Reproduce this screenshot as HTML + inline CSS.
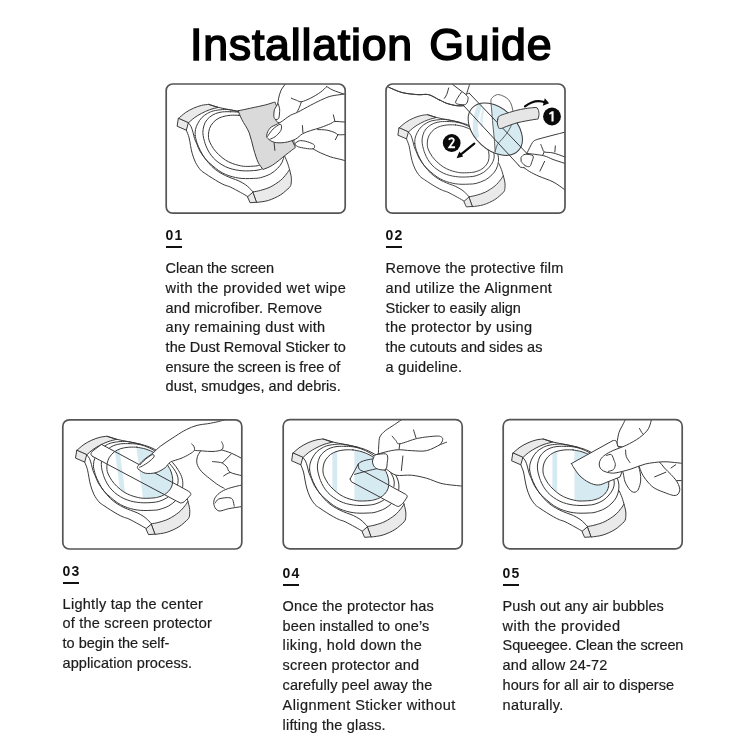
<!DOCTYPE html>
<html><head><meta charset="utf-8"><title>Installation Guide</title>
<style>
html,body{margin:0;padding:0;background:#fff}
body{will-change:transform;width:750px;height:750px;position:relative;overflow:hidden;font-family:"Liberation Sans",sans-serif;color:#1a1a1a}
.title{word-spacing:3.2px;position:absolute;left:0;top:0;width:750px;text-align:center;font-size:44.7px;line-height:50px;color:#000;white-space:nowrap}
.num{position:absolute;font-weight:bold;font-size:14px;letter-spacing:1.1px;line-height:16px;color:#111;white-space:nowrap}
.bar{position:absolute;width:16.6px;height:2.1px;background:#111}
.ln{position:absolute;font-size:14.5px;line-height:18px;white-space:nowrap;color:#1c1c1c;-webkit-text-stroke:0.2px #1c1c1c}
</style></head><body>
<svg width="750" height="750" viewBox="0 0 750 750" style="position:absolute;left:0;top:0">
<defs><clipPath id="pc0"><rect x="166.2" y="84" width="179" height="129.2" rx="6.5"/></clipPath></defs><g clip-path="url(#pc0)">
<g transform="translate(-114.5,-334.6) scale(1.0)" stroke-linecap="round" stroke-linejoin="round">
<path d="M292.8,453.2C294,452.2 297.47,448.93 300,447.2C302.53,445.47 305.33,444 308,442.8C310.67,441.6 313.47,440.64 316,440C318.53,439.36 322,439.13 323.2,438.96L332.8,442C331.33,442.4 326.8,443.4 324,444.4C321.2,445.4 318.53,446.67 316,448C313.47,449.33 311,450.8 308.8,452.4C306.6,454 303.8,456.73 302.8,457.6Z" fill="#eaeaea" stroke="#3a3a3a" stroke-width="1.0" />
<path d="M292.8,453.2L291.6,460.8L300.8,464.8L302.8,457.6Z" fill="#eaeaea" stroke="#3a3a3a" stroke-width="1.0" />
<path d="M300.8,464.8C301.25,466 302.8,469.47 303.5,472C304.2,474.53 304.47,477.33 305,480C305.53,482.67 305.87,485.17 306.7,488C307.53,490.83 308.62,494.25 310,497C311.38,499.75 313.33,502.62 315,504.5C316.67,506.38 318.05,506.93 320,508.3C321.95,509.67 324.48,511.3 326.7,512.7C328.92,514.1 331.2,515.53 333.3,516.7C335.4,517.87 337.35,518.87 339.3,519.7C341.25,520.53 342.38,520.48 345,521.7C347.62,522.92 352.12,525.42 355,527C357.88,528.58 361.08,530.5 362.3,531.2" fill="none" stroke="#3a3a3a" stroke-width="1.0" />
<path d="M302.8,457.6C303.25,458.17 304.72,459.43 305.5,461C306.28,462.57 306.92,465 307.5,467C308.08,469 308.37,471.08 309,473C309.63,474.92 310.42,476.42 311.3,478.5C312.18,480.58 312.93,483.08 314.3,485.5C315.67,487.92 317.47,490.38 319.5,493C321.53,495.62 324.2,498.95 326.5,501.2C328.8,503.45 331.05,505 333.3,506.5C335.55,508 337.77,509.12 340,510.2C342.23,511.28 344.48,512.12 346.7,513C348.92,513.88 351.08,514.45 353.3,515.5C355.52,516.55 358.22,518.08 360,519.3C361.78,520.52 362.72,521.6 364,522.8C365.28,524 367.08,525.88 367.7,526.5" fill="none" stroke="#3a3a3a" stroke-width="1.0" />
<defs><clipPath id="w0clip"><path d="M353,449.9C351.67,449.9 347.67,449.67 345,449.9C342.33,450.13 339.42,450.53 337,451.3C334.58,452.07 332.42,453.05 330.5,454.5C328.58,455.95 326.7,458.08 325.5,460C324.3,461.92 323.72,464 323.3,466C322.88,468 322.83,470.22 323,472C323.17,473.78 323.47,474.82 324.3,476.7C325.13,478.58 326.5,481.2 328,483.3C329.5,485.4 331.3,487.4 333.3,489.3C335.3,491.2 337.77,493.25 340,494.7C342.23,496.15 344.48,497.12 346.7,498C348.92,498.88 351.08,499.5 353.3,500C355.52,500.5 357.22,500.9 360,501C362.78,501.1 367.5,500.83 370,500.6C372.5,500.37 373.38,500.07 375,499.6C376.62,499.13 378.08,498.73 379.7,497.8C381.32,496.87 383.32,495.52 384.7,494C386.08,492.48 387.32,490.7 388,488.7C388.68,486.7 388.92,484.33 388.8,482C388.68,479.67 388.13,477.03 387.3,474.7C386.47,472.37 385.35,470.23 383.8,468C382.25,465.77 380.13,463.35 378,461.3C375.87,459.25 373.67,457.28 371,455.7C368.33,454.12 365,452.77 362,451.8C359,450.83 354.5,450.22 353,449.9Z" fill="#fff" stroke="none" stroke-width="0" /></clipPath></defs>
<path d="M345,446.3C343.67,446.33 339.5,446.18 337,446.5C334.5,446.82 332.17,447.32 330,448.2C327.83,449.08 325.72,450.33 324,451.8C322.28,453.27 320.77,454.97 319.7,457C318.63,459.03 317.95,461.83 317.6,464C317.25,466.17 317.37,468 317.6,470C317.83,472 318.52,474.25 319,476C319.48,477.75 319.75,478.72 320.5,480.5C321.25,482.28 322.25,484.67 323.5,486.7C324.75,488.73 326.37,490.93 328,492.7C329.63,494.47 331.3,495.87 333.3,497.3C335.3,498.73 337.77,500.23 340,501.3C342.23,502.37 344.48,503.08 346.7,503.7C348.92,504.32 351.08,504.7 353.3,505C355.52,505.3 357.55,505.47 360,505.5C362.45,505.53 365.5,505.43 368,505.2C370.5,504.97 372.5,504.88 375,504.1C377.5,503.32 380.67,502.02 383,500.5C385.33,498.98 387.33,496.92 389,495C390.67,493.08 392.12,491 393,489C393.88,487 394.3,485 394.3,483C394.3,481 393.8,479 393,477C392.2,475 390.92,473 389.5,471C388.08,469 386.42,467 384.5,465C382.58,463 380.42,461 378,459C375.58,457 372.83,454.7 370,453C367.17,451.3 363.83,449.83 361,448.8C358.17,447.77 355.67,447.22 353,446.8C350.33,446.38 346.33,446.38 345,446.3Z" fill="none" stroke="#3a3a3a" stroke-width="1.0" />
<path d="M309.6,470C309.67,469 309.55,466 310,464C310.45,462 311.22,460 312.3,458C313.38,456 314.88,453.67 316.5,452C318.12,450.33 320.08,449.08 322,448C323.92,446.92 325.5,446.13 328,445.5C330.5,444.87 334.17,444.37 337,444.2C339.83,444.03 341.5,443.98 345,444.5C348.5,445.02 354.17,446.27 358,447.3C361.83,448.33 364.33,449 368,450.7C371.67,452.4 376.58,455.12 380,457.5C383.42,459.88 386.08,462.42 388.5,465C390.92,467.58 392.88,470.33 394.5,473C396.12,475.67 397.48,478.33 398.2,481C398.92,483.67 399.08,486.33 398.8,489C398.52,491.67 397.63,494.67 396.5,497C395.37,499.33 393.92,501.08 392,503C390.08,504.92 387.83,506.95 385,508.5C382.17,510.05 377.83,511.55 375,512.3C372.17,513.05 370.5,512.85 368,513C365.5,513.15 362.45,513.25 360,513.2C357.55,513.15 355.52,513.02 353.3,512.7C351.08,512.38 348.92,511.92 346.7,511.3C344.48,510.68 342.23,510 340,509C337.77,508 335.52,506.8 333.3,505.3C331.08,503.8 328.92,501.93 326.7,500C324.48,498.07 321.95,496.12 320,493.7C318.05,491.28 316.42,488.2 315,485.5C313.58,482.8 312.4,480.08 311.5,477.5C310.6,474.92 309.92,471.25 309.6,470Z" fill="none" stroke="#3a3a3a" stroke-width="1.0" />
<path d="M323.2,439C324.8,439.5 329.22,441.1 332.8,442C336.38,442.9 340.5,443.52 344.7,444.4C348.9,445.28 355.78,446.82 358,447.3" fill="none" stroke="#3a3a3a" stroke-width="1.0" />
<path d="M362.3,531.2L367.7,526.5L371.5,536.8L365,537.3Z" fill="#eaeaea" stroke="#3a3a3a" stroke-width="1.0" />
<path d="M367.7,526.5C368.92,526.25 372.12,525.83 375,525C377.88,524.17 381.67,523.17 385,521.5C388.33,519.83 392.33,517.17 395,515C397.67,512.83 399.5,510.33 401,508.5C402.5,506.67 403.5,504.75 404,504C404.3,505.33 405.55,509.5 405.8,512C406.05,514.5 405.8,517.33 405.5,519C405.2,520.67 404.25,521.5 404,522C402.5,523.25 398.5,527.33 395,529.5C391.5,531.67 386.92,533.75 383,535C379.08,536.25 373.42,536.67 371.5,537Z" fill="#eaeaea" stroke="#3a3a3a" stroke-width="1.0" />
<path d="M404,504C403.67,502.92 402.78,499.67 402,497.5C401.22,495.33 399.75,492.08 399.3,491" fill="none" stroke="#3a3a3a" stroke-width="1.0" />
<path d="M353,449.9C351.67,449.9 347.67,449.67 345,449.9C342.33,450.13 339.42,450.53 337,451.3C334.58,452.07 332.42,453.05 330.5,454.5C328.58,455.95 326.7,458.08 325.5,460C324.3,461.92 323.72,464 323.3,466C322.88,468 322.83,470.22 323,472C323.17,473.78 323.47,474.82 324.3,476.7C325.13,478.58 326.5,481.2 328,483.3C329.5,485.4 331.3,487.4 333.3,489.3C335.3,491.2 337.77,493.25 340,494.7C342.23,496.15 344.48,497.12 346.7,498C348.92,498.88 351.08,499.5 353.3,500C355.52,500.5 357.22,500.9 360,501C362.78,501.1 367.5,500.83 370,500.6C372.5,500.37 373.38,500.07 375,499.6C376.62,499.13 378.08,498.73 379.7,497.8C381.32,496.87 383.32,495.52 384.7,494C386.08,492.48 387.32,490.7 388,488.7C388.68,486.7 388.92,484.33 388.8,482C388.68,479.67 388.13,477.03 387.3,474.7C386.47,472.37 385.35,470.23 383.8,468C382.25,465.77 380.13,463.35 378,461.3C375.87,459.25 373.67,457.28 371,455.7C368.33,454.12 365,452.77 362,451.8C359,450.83 354.5,450.22 353,449.9Z" fill="#fff" stroke="none" stroke-width="0" />
<path d="M353,449.9C351.67,449.9 347.67,449.67 345,449.9C342.33,450.13 339.42,450.53 337,451.3C334.58,452.07 332.42,453.05 330.5,454.5C328.58,455.95 326.7,458.08 325.5,460C324.3,461.92 323.72,464 323.3,466C322.88,468 322.83,470.22 323,472C323.17,473.78 323.47,474.82 324.3,476.7C325.13,478.58 326.5,481.2 328,483.3C329.5,485.4 331.3,487.4 333.3,489.3C335.3,491.2 337.77,493.25 340,494.7C342.23,496.15 344.48,497.12 346.7,498C348.92,498.88 351.08,499.5 353.3,500C355.52,500.5 357.22,500.9 360,501C362.78,501.1 367.5,500.83 370,500.6C372.5,500.37 373.38,500.07 375,499.6C376.62,499.13 378.08,498.73 379.7,497.8C381.32,496.87 383.32,495.52 384.7,494C386.08,492.48 387.32,490.7 388,488.7C388.68,486.7 388.92,484.33 388.8,482C388.68,479.67 388.13,477.03 387.3,474.7C386.47,472.37 385.35,470.23 383.8,468C382.25,465.77 380.13,463.35 378,461.3C375.87,459.25 373.67,457.28 371,455.7C368.33,454.12 365,452.77 362,451.8C359,450.83 354.5,450.22 353,449.9Z" fill="none" stroke="#3a3a3a" stroke-width="1.0" />
</g>
<g stroke-linecap="round" stroke-linejoin="round"><path d="M238.2,110.8C240.28,110.36 246.14,109.14 250.67,108.16C255.19,107.18 261.3,105.96 265.33,104.93C269.37,103.91 273.28,102.49 274.87,102C276.46,105.67 280.98,116.42 284.4,124C287.82,131.58 293.57,143.56 295.4,147.47C293.81,148.69 289.66,151.87 285.87,154.8C282.08,157.73 276.46,162.62 272.67,165.07C268.88,167.51 264.72,168.73 263.13,169.47C262.28,168.24 259.59,165.56 258,162.13C256.41,158.71 255.07,153.82 253.6,148.93C252.13,144.04 251.16,137.69 249.2,132.8C247.24,127.91 243.7,123.27 241.87,119.6C240.03,115.93 238.81,112.27 238.2,110.8Z" fill="#dadada" stroke="#3a3a3a" stroke-width="1.0" />
<path d="M274.13,143.07L274.87,150.4" fill="none" stroke="#3a3a3a" stroke-width="1.0" />
<path d="M293.81,138.72 L302.43,133.65 L347.01,121.49 L347.01,162.03 L340.93,159.49 L330.8,156.96 L320.67,152.91 L313.07,148.85 L305.47,148.35 L298.37,146.83 L295.33,144.8 L294.32,143.79 Z" fill="#fff" stroke="none"/>
<path d="M286.21,82.99C285.37,84.17 282.41,87.55 281.15,90.08C279.88,92.61 279.2,95.82 278.61,98.19C278.02,100.55 278.28,102.41 277.6,104.27C276.92,106.12 275.18,107.31 274.56,109.33C273.94,111.36 273.68,114.7 273.85,116.43C274.02,118.15 274.95,118.69 275.57,119.67C276.2,120.65 276.84,121.75 277.6,122.3C278.36,122.86 279.71,122.9 280.13,123.01L297.36,112.37L343.97,94.13L348.03,94.13L348.03,82.99Z" fill="#fff" stroke="none" stroke-width="0" />
<path d="M286.21,82.99C285.37,84.17 282.41,87.55 281.15,90.08C279.88,92.61 279.2,95.82 278.61,98.19C278.02,100.55 278.28,102.41 277.6,104.27C276.92,106.12 275.18,107.31 274.56,109.33C273.94,111.36 273.68,114.7 273.85,116.43C274.02,118.15 274.95,118.69 275.57,119.67C276.2,120.65 276.84,121.75 277.6,122.3C278.36,122.86 279.71,122.9 280.13,123.01" fill="none" stroke="#3a3a3a" stroke-width="1.0" />
<path d="M278.11,103.76C278.31,104.35 279.07,106.04 279.32,107.31C279.58,108.57 279.74,109.5 279.63,111.36C279.51,113.22 279.29,117.1 278.61,118.45C277.94,119.8 276.08,119.3 275.57,119.47" fill="none" stroke="#3a3a3a" stroke-width="1.0" />
<path d="M291.28,98.19C292.12,98.52 294.66,99.62 296.35,100.21C298.04,100.8 299.05,102.07 301.41,101.73C303.78,101.4 307.32,99.79 310.53,98.19C313.74,96.58 317.96,94.05 320.67,92.11C323.37,90.16 325.73,87.46 326.75,86.53" fill="none" stroke="#3a3a3a" stroke-width="1.0" />
<path d="M326.75,86.53C327.76,87.12 329.96,88.81 332.83,90.08C335.7,91.35 342.12,93.46 343.97,94.13" fill="none" stroke="#3a3a3a" stroke-width="1.0" />
<path d="M301.41,101.73C301.08,102.66 300.15,105.53 299.39,107.31C298.63,109.08 297.28,111.53 296.85,112.37" fill="none" stroke="#3a3a3a" stroke-width="1.0" />
<path d="M293.81,139.23C293.9,139.99 293.98,142.77 294.32,143.79C294.66,144.8 295.59,145.05 295.84,145.31" fill="none" stroke="#3a3a3a" stroke-width="1.0" />
<path d="M295.33,143.28C296.01,142.86 297.7,141.08 299.39,140.75C301.08,140.41 303.27,140.75 305.47,141.25C307.66,141.76 311.04,142.99 312.56,143.79C314.08,144.58 314.5,145.17 314.59,146.02C314.67,146.86 314.59,148.46 313.07,148.85C311.55,149.24 307.92,148.68 305.47,148.35C303.02,148.01 300.06,147.42 298.37,146.83C296.68,146.24 295.84,145.14 295.33,144.8Z" fill="#fff" stroke="#3a3a3a" stroke-width="1.0" />
<path d="M313.07,148.85C314.33,149.53 317.71,151.56 320.67,152.91C323.62,154.26 327.42,155.86 330.8,156.96C334.18,158.06 338.06,158.73 340.93,159.49C343.8,160.25 346.84,161.18 348.03,161.52" fill="none" stroke="#3a3a3a" stroke-width="1.0" />
<path d="M348.03,93.32C347.35,93.46 346.84,93.66 343.97,94.13C341.1,94.61 334.68,95.15 330.8,96.16C326.92,97.17 324.04,98.69 320.67,100.21C317.29,101.73 314.42,103.25 310.53,105.28C306.65,107.31 300.74,110.68 297.36,112.37C293.98,114.06 293.14,113.72 290.27,115.41C287.4,117.1 283.31,120.56 280.13,122.51C276.96,124.45 273.28,125.55 271.22,127.07C269.16,128.59 268.53,130.19 267.77,131.63C267.01,133.06 266.66,134.55 266.66,135.68C266.66,136.81 266.54,137.32 267.77,138.42C269,139.51 271.23,141.59 274.05,142.27C276.87,142.94 281.15,142.98 284.69,142.47C288.24,141.96 292.38,140.66 295.33,139.23C298.29,137.79 299.89,135.29 302.43,133.86C304.96,132.42 307.49,131.66 310.53,130.61C313.57,129.57 317.29,128.76 320.67,127.57C324.04,126.39 328.44,124.53 330.8,123.52C333.16,122.51 332.66,121.75 334.85,121.49C337.05,121.24 341.78,121.92 343.97,122C346.17,122.08 347.35,122 348.03,122Z" fill="#fff" stroke="none" stroke-width="0" />
<path d="M348.03,93.32C347.35,93.46 346.84,93.66 343.97,94.13C341.1,94.61 334.68,95.15 330.8,96.16C326.92,97.17 324.04,98.69 320.67,100.21C317.29,101.73 314.42,103.25 310.53,105.28C306.65,107.31 300.74,110.68 297.36,112.37C293.98,114.06 293.14,113.72 290.27,115.41C287.4,117.1 283.31,120.56 280.13,122.51C276.96,124.45 273.28,125.55 271.22,127.07C269.16,128.59 268.53,130.19 267.77,131.63C267.01,133.06 266.66,134.55 266.66,135.68C266.66,136.81 266.54,137.32 267.77,138.42C269,139.51 271.23,141.59 274.05,142.27C276.87,142.94 281.15,142.98 284.69,142.47C288.24,141.96 292.38,140.66 295.33,139.23C298.29,137.79 299.89,135.29 302.43,133.86C304.96,132.42 307.49,131.66 310.53,130.61C313.57,129.57 317.29,128.76 320.67,127.57C324.04,126.39 328.44,124.53 330.8,123.52C333.16,122.51 332.66,121.75 334.85,121.49C337.05,121.24 341.78,121.92 343.97,122C346.17,122.08 347.35,122 348.03,122" fill="none" stroke="#3a3a3a" stroke-width="1.0" />
<path d="M267.37,136.49C268.31,135.26 270.95,131.12 273.04,129.09C275.13,127.07 278.51,124.67 279.93,124.33C281.35,123.99 281.52,125.85 281.55,127.07C281.59,128.28 281.21,130.02 280.13,131.63C279.05,133.23 276.76,135.43 275.07,136.69C273.38,137.96 270.84,138.8 270,139.23" fill="none" stroke="#3a3a3a" stroke-width="1.0" />
<path d="M302.43,125.55L302.93,132.64" fill="none" stroke="#3a3a3a" stroke-width="1.0" />
<path d="M333.33,114.91L334.85,120.99" fill="none" stroke="#3a3a3a" stroke-width="1.0" />
<path d="M317.63,129.6C319.15,129.68 323.88,129.6 326.75,130.11C329.62,130.61 333,131.88 334.85,132.64C336.71,133.4 336.37,134.33 337.89,134.67C339.41,135 342.28,134.67 343.97,134.67C345.66,134.67 347.35,134.67 348.03,134.67" fill="none" stroke="#3a3a3a" stroke-width="1.0" />
<path d="M337.89,134.67L335.36,139.73" fill="none" stroke="#3a3a3a" stroke-width="1.0" /></g>
</g><rect x="166.2" y="84" width="179" height="129.2" rx="6.5" fill="none" stroke="#555" stroke-width="1.7"/>
<defs><clipPath id="pc1"><rect x="386" y="84" width="179" height="129.2" rx="6.5"/></clipPath></defs><g clip-path="url(#pc1)">
<g transform="translate(124.35,-297.1) scale(0.938)" stroke-linecap="round" stroke-linejoin="round">
<path d="M292.8,453.2C294,452.2 297.47,448.93 300,447.2C302.53,445.47 305.33,444 308,442.8C310.67,441.6 313.47,440.64 316,440C318.53,439.36 322,439.13 323.2,438.96L332.8,442C331.33,442.4 326.8,443.4 324,444.4C321.2,445.4 318.53,446.67 316,448C313.47,449.33 311,450.8 308.8,452.4C306.6,454 303.8,456.73 302.8,457.6Z" fill="#eaeaea" stroke="#3a3a3a" stroke-width="1.0" />
<path d="M292.8,453.2L291.6,460.8L300.8,464.8L302.8,457.6Z" fill="#eaeaea" stroke="#3a3a3a" stroke-width="1.0" />
<path d="M300.8,464.8C301.25,466 302.8,469.47 303.5,472C304.2,474.53 304.47,477.33 305,480C305.53,482.67 305.87,485.17 306.7,488C307.53,490.83 308.62,494.25 310,497C311.38,499.75 313.33,502.62 315,504.5C316.67,506.38 318.05,506.93 320,508.3C321.95,509.67 324.48,511.3 326.7,512.7C328.92,514.1 331.2,515.53 333.3,516.7C335.4,517.87 337.35,518.87 339.3,519.7C341.25,520.53 342.38,520.48 345,521.7C347.62,522.92 352.12,525.42 355,527C357.88,528.58 361.08,530.5 362.3,531.2" fill="none" stroke="#3a3a3a" stroke-width="1.0" />
<path d="M302.8,457.6C303.25,458.17 304.72,459.43 305.5,461C306.28,462.57 306.92,465 307.5,467C308.08,469 308.37,471.08 309,473C309.63,474.92 310.42,476.42 311.3,478.5C312.18,480.58 312.93,483.08 314.3,485.5C315.67,487.92 317.47,490.38 319.5,493C321.53,495.62 324.2,498.95 326.5,501.2C328.8,503.45 331.05,505 333.3,506.5C335.55,508 337.77,509.12 340,510.2C342.23,511.28 344.48,512.12 346.7,513C348.92,513.88 351.08,514.45 353.3,515.5C355.52,516.55 358.22,518.08 360,519.3C361.78,520.52 362.72,521.6 364,522.8C365.28,524 367.08,525.88 367.7,526.5" fill="none" stroke="#3a3a3a" stroke-width="1.0" />
<defs><clipPath id="w1clip"><path d="M353,449.9C351.67,449.9 347.67,449.67 345,449.9C342.33,450.13 339.42,450.53 337,451.3C334.58,452.07 332.42,453.05 330.5,454.5C328.58,455.95 326.7,458.08 325.5,460C324.3,461.92 323.72,464 323.3,466C322.88,468 322.83,470.22 323,472C323.17,473.78 323.47,474.82 324.3,476.7C325.13,478.58 326.5,481.2 328,483.3C329.5,485.4 331.3,487.4 333.3,489.3C335.3,491.2 337.77,493.25 340,494.7C342.23,496.15 344.48,497.12 346.7,498C348.92,498.88 351.08,499.5 353.3,500C355.52,500.5 357.22,500.9 360,501C362.78,501.1 367.5,500.83 370,500.6C372.5,500.37 373.38,500.07 375,499.6C376.62,499.13 378.08,498.73 379.7,497.8C381.32,496.87 383.32,495.52 384.7,494C386.08,492.48 387.32,490.7 388,488.7C388.68,486.7 388.92,484.33 388.8,482C388.68,479.67 388.13,477.03 387.3,474.7C386.47,472.37 385.35,470.23 383.8,468C382.25,465.77 380.13,463.35 378,461.3C375.87,459.25 373.67,457.28 371,455.7C368.33,454.12 365,452.77 362,451.8C359,450.83 354.5,450.22 353,449.9Z" fill="#fff" stroke="none" stroke-width="0" /></clipPath></defs>
<path d="M345,446.3C343.67,446.33 339.5,446.18 337,446.5C334.5,446.82 332.17,447.32 330,448.2C327.83,449.08 325.72,450.33 324,451.8C322.28,453.27 320.77,454.97 319.7,457C318.63,459.03 317.95,461.83 317.6,464C317.25,466.17 317.37,468 317.6,470C317.83,472 318.52,474.25 319,476C319.48,477.75 319.75,478.72 320.5,480.5C321.25,482.28 322.25,484.67 323.5,486.7C324.75,488.73 326.37,490.93 328,492.7C329.63,494.47 331.3,495.87 333.3,497.3C335.3,498.73 337.77,500.23 340,501.3C342.23,502.37 344.48,503.08 346.7,503.7C348.92,504.32 351.08,504.7 353.3,505C355.52,505.3 357.55,505.47 360,505.5C362.45,505.53 365.5,505.43 368,505.2C370.5,504.97 372.5,504.88 375,504.1C377.5,503.32 380.67,502.02 383,500.5C385.33,498.98 387.33,496.92 389,495C390.67,493.08 392.12,491 393,489C393.88,487 394.3,485 394.3,483C394.3,481 393.8,479 393,477C392.2,475 390.92,473 389.5,471C388.08,469 386.42,467 384.5,465C382.58,463 380.42,461 378,459C375.58,457 372.83,454.7 370,453C367.17,451.3 363.83,449.83 361,448.8C358.17,447.77 355.67,447.22 353,446.8C350.33,446.38 346.33,446.38 345,446.3Z" fill="none" stroke="#3a3a3a" stroke-width="1.0" />
<path d="M309.6,470C309.67,469 309.55,466 310,464C310.45,462 311.22,460 312.3,458C313.38,456 314.88,453.67 316.5,452C318.12,450.33 320.08,449.08 322,448C323.92,446.92 325.5,446.13 328,445.5C330.5,444.87 334.17,444.37 337,444.2C339.83,444.03 341.5,443.98 345,444.5C348.5,445.02 354.17,446.27 358,447.3C361.83,448.33 364.33,449 368,450.7C371.67,452.4 376.58,455.12 380,457.5C383.42,459.88 386.08,462.42 388.5,465C390.92,467.58 392.88,470.33 394.5,473C396.12,475.67 397.48,478.33 398.2,481C398.92,483.67 399.08,486.33 398.8,489C398.52,491.67 397.63,494.67 396.5,497C395.37,499.33 393.92,501.08 392,503C390.08,504.92 387.83,506.95 385,508.5C382.17,510.05 377.83,511.55 375,512.3C372.17,513.05 370.5,512.85 368,513C365.5,513.15 362.45,513.25 360,513.2C357.55,513.15 355.52,513.02 353.3,512.7C351.08,512.38 348.92,511.92 346.7,511.3C344.48,510.68 342.23,510 340,509C337.77,508 335.52,506.8 333.3,505.3C331.08,503.8 328.92,501.93 326.7,500C324.48,498.07 321.95,496.12 320,493.7C318.05,491.28 316.42,488.2 315,485.5C313.58,482.8 312.4,480.08 311.5,477.5C310.6,474.92 309.92,471.25 309.6,470Z" fill="none" stroke="#3a3a3a" stroke-width="1.0" />
<path d="M323.2,439C324.8,439.5 329.22,441.1 332.8,442C336.38,442.9 340.5,443.52 344.7,444.4C348.9,445.28 355.78,446.82 358,447.3" fill="none" stroke="#3a3a3a" stroke-width="1.0" />
<path d="M362.3,531.2L367.7,526.5L371.5,536.8L365,537.3Z" fill="#eaeaea" stroke="#3a3a3a" stroke-width="1.0" />
<path d="M367.7,526.5C368.92,526.25 372.12,525.83 375,525C377.88,524.17 381.67,523.17 385,521.5C388.33,519.83 392.33,517.17 395,515C397.67,512.83 399.5,510.33 401,508.5C402.5,506.67 403.5,504.75 404,504C404.3,505.33 405.55,509.5 405.8,512C406.05,514.5 405.8,517.33 405.5,519C405.2,520.67 404.25,521.5 404,522C402.5,523.25 398.5,527.33 395,529.5C391.5,531.67 386.92,533.75 383,535C379.08,536.25 373.42,536.67 371.5,537Z" fill="#eaeaea" stroke="#3a3a3a" stroke-width="1.0" />
<path d="M404,504C403.67,502.92 402.78,499.67 402,497.5C401.22,495.33 399.75,492.08 399.3,491" fill="none" stroke="#3a3a3a" stroke-width="1.0" />
<path d="M353,449.9C351.67,449.9 347.67,449.67 345,449.9C342.33,450.13 339.42,450.53 337,451.3C334.58,452.07 332.42,453.05 330.5,454.5C328.58,455.95 326.7,458.08 325.5,460C324.3,461.92 323.72,464 323.3,466C322.88,468 322.83,470.22 323,472C323.17,473.78 323.47,474.82 324.3,476.7C325.13,478.58 326.5,481.2 328,483.3C329.5,485.4 331.3,487.4 333.3,489.3C335.3,491.2 337.77,493.25 340,494.7C342.23,496.15 344.48,497.12 346.7,498C348.92,498.88 351.08,499.5 353.3,500C355.52,500.5 357.22,500.9 360,501C362.78,501.1 367.5,500.83 370,500.6C372.5,500.37 373.38,500.07 375,499.6C376.62,499.13 378.08,498.73 379.7,497.8C381.32,496.87 383.32,495.52 384.7,494C386.08,492.48 387.32,490.7 388,488.7C388.68,486.7 388.92,484.33 388.8,482C388.68,479.67 388.13,477.03 387.3,474.7C386.47,472.37 385.35,470.23 383.8,468C382.25,465.77 380.13,463.35 378,461.3C375.87,459.25 373.67,457.28 371,455.7C368.33,454.12 365,452.77 362,451.8C359,450.83 354.5,450.22 353,449.9Z" fill="#fff" stroke="none" stroke-width="0" />
<path d="M353,449.9C351.67,449.9 347.67,449.67 345,449.9C342.33,450.13 339.42,450.53 337,451.3C334.58,452.07 332.42,453.05 330.5,454.5C328.58,455.95 326.7,458.08 325.5,460C324.3,461.92 323.72,464 323.3,466C322.88,468 322.83,470.22 323,472C323.17,473.78 323.47,474.82 324.3,476.7C325.13,478.58 326.5,481.2 328,483.3C329.5,485.4 331.3,487.4 333.3,489.3C335.3,491.2 337.77,493.25 340,494.7C342.23,496.15 344.48,497.12 346.7,498C348.92,498.88 351.08,499.5 353.3,500C355.52,500.5 357.22,500.9 360,501C362.78,501.1 367.5,500.83 370,500.6C372.5,500.37 373.38,500.07 375,499.6C376.62,499.13 378.08,498.73 379.7,497.8C381.32,496.87 383.32,495.52 384.7,494C386.08,492.48 387.32,490.7 388,488.7C388.68,486.7 388.92,484.33 388.8,482C388.68,479.67 388.13,477.03 387.3,474.7C386.47,472.37 385.35,470.23 383.8,468C382.25,465.77 380.13,463.35 378,461.3C375.87,459.25 373.67,457.28 371,455.7C368.33,454.12 365,452.77 362,451.8C359,450.83 354.5,450.22 353,449.9Z" fill="none" stroke="#3a3a3a" stroke-width="1.0" />
</g>
<g stroke-linecap="round" stroke-linejoin="round"><path d="M388.67,87.2C390.89,88.09 397.11,91.29 402,92.53C406.89,93.78 413.56,94.31 418,94.67C422.44,95.02 425.11,93.78 428.67,94.67C432.22,95.56 437.44,99.11 439.33,100C441.22,100.89 438.78,99.44 440,100C441.22,100.56 443.89,102.39 446.67,103.33C449.44,104.28 453.83,105.28 456.67,105.67C459.5,106.06 462.5,105.67 463.67,105.67" fill="none" stroke="#3a3a3a" stroke-width="1.0" />
<path d="M448.67,88C448.33,89.11 447.39,92.94 446.67,94.67C445.94,96.39 444.72,97.72 444.33,98.33" fill="none" stroke="#3a3a3a" stroke-width="1.0" />
<defs><clipPath id="protclip"><ellipse cx="495.3" cy="129.2" rx="31.4" ry="20.8" transform="rotate(42.4 495.3 129.2)" fill="#fff" stroke="none" stroke-width="0"/></clipPath></defs>
<ellipse cx="495.3" cy="129.2" rx="31.4" ry="20.8" transform="rotate(42.4 495.3 129.2)" fill="#fff" stroke="none" stroke-width="0"/>
<g clip-path="url(#protclip)"><path d="M495.13,152 L494.2,138 L492.8,124 L491.68,110 L490.93,100.67 L492.8,96 L532.93,96 L532.93,166.93 L495.13,166.93 Z" fill="#d6eaf2"/>
<path d="M479.55,105.8C478.99,107.59 476.9,113.03 476.19,116.53C475.47,120.03 475.21,123.61 475.25,126.8C475.3,129.99 476.26,134.19 476.47,135.67" fill="none" stroke="#d6e9f1" stroke-width="5" />
<path d="M483.65,108.6C483.31,110.23 481.91,115.52 481.6,118.4C481.29,121.28 481.76,124.62 481.79,125.87" fill="none" stroke="#dfeef4" stroke-width="2.4" />
</g>
<ellipse cx="495.3" cy="129.2" rx="31.4" ry="20.8" transform="rotate(42.4 495.3 129.2)" fill="none" stroke="#3a3a3a" stroke-width="1.0"/>
<path d="M495.13,152C494.98,149.67 494.59,142.67 494.2,138C493.81,133.33 493.22,128.67 492.8,124C492.38,119.33 491.99,113.89 491.68,110C491.37,106.11 490.75,102.81 490.93,100.67C491.12,98.52 491.71,98.13 492.8,97.12C493.89,96.11 495.76,94.79 497.47,94.6C499.18,94.41 501.2,95.14 503.07,96C504.93,96.86 507.19,98.02 508.67,99.73C510.14,101.44 511.19,103.78 511.93,106.27C512.68,108.76 513.07,112.02 513.15,114.67C513.22,117.31 513.15,119.49 512.4,122.13C511.65,124.78 510.22,127.89 508.67,130.53C507.11,133.18 504.93,135.67 503.07,138C501.2,140.33 498.79,142.28 497.47,144.53C496.14,146.79 495.52,150.37 495.13,151.53" fill="none" stroke="#505050" stroke-width="0.9" />
<path d="M469.3,93.3L526.9,153.4" fill="none" stroke="#3a3a3a" stroke-width="1.0" />
<path d="M463.7,105.7L518.5,165.1" fill="none" stroke="#3a3a3a" stroke-width="1.0" />
<path d="M466.67,94.67C466.83,94.47 467.22,93.69 467.67,93.47C468.11,93.24 469.06,93.36 469.33,93.33" fill="none" stroke="#3a3a3a" stroke-width="1.0" />
<path d="M518.47,165.07C518.78,165.41 519.4,166.68 520.33,167.12C521.27,167.56 523.44,167.59 524.07,167.68" fill="none" stroke="#3a3a3a" stroke-width="1.0" />
<path d="M497.75,119.33C498.01,118.79 497.82,117.08 499.33,116.07C500.84,115.06 503.69,114.28 506.8,113.27C509.91,112.26 514.58,110.82 518,110C521.42,109.18 524.86,108.7 527.33,108.32C529.81,107.94 531.24,107.8 532.84,107.7C534.44,107.6 535.96,107.24 536.91,107.7C537.86,108.16 538.26,110.01 538.53,110.47C538.61,111.14 539.1,113.1 539.02,114.53C538.94,115.97 538.21,118.33 538.05,119.09C537.18,119.2 536.18,119.15 532.84,119.74C529.5,120.32 522.34,121.5 518,122.6C513.66,123.7 509.6,125.35 506.8,126.33C504,127.31 502.52,128.17 501.2,128.48C499.88,128.79 499.26,128.25 498.87,128.2C498.63,127.5 497.65,125.48 497.47,124C497.28,122.52 497.7,120.11 497.75,119.33Z" fill="#e6e6e6" stroke="#3a3a3a" stroke-width="1.0" />
<path d="M452,84 L465.67,94.33 L468,97.33 L467.33,102 L464.67,104.67 L457.33,104 L455.67,102 L453.33,104 L440,100 L440,84 Z" fill="#fff" stroke="none"/>
<path d="M388.67,87.2C390.89,88.09 397.11,91.29 402,92.53C406.89,93.78 413.56,94.31 418,94.67C422.44,95.02 425.11,93.78 428.67,94.67C432.22,95.56 437.44,99.11 439.33,100C441.22,100.89 438.78,99.44 440,100C441.22,100.56 443.89,102.39 446.67,103.33C449.44,104.28 453.83,105.28 456.67,105.67C459.5,106.06 462.5,105.67 463.67,105.67" fill="none" stroke="#3a3a3a" stroke-width="1.0" />
<path d="M448.67,88C448.33,89.11 447.39,92.94 446.67,94.67C445.94,96.39 444.72,97.72 444.33,98.33" fill="none" stroke="#3a3a3a" stroke-width="1.0" />
<path d="M452,84L465.67,94.33" fill="none" stroke="#3a3a3a" stroke-width="1.0" />
<path d="M469.67,84C469.61,84.22 469.83,83.72 469.33,85.33C468.83,86.94 467.11,92.28 466.67,93.67" fill="none" stroke="#3a3a3a" stroke-width="1.0" />
<path d="M461.33,92.33C460.78,93.17 458.94,95.72 458,97.33C457.06,98.94 455.78,100.89 455.67,102C455.56,103.11 455.83,103.56 457.33,104C458.83,104.44 463,105 464.67,104.67C466.33,104.33 466.78,103.22 467.33,102C467.89,100.78 468.28,98.56 468,97.33C467.72,96.11 466.06,95.11 465.67,94.67" fill="#fff" stroke="#3a3a3a" stroke-width="1.0" />
<path d="M526.87,153.4 L532.93,141.73 L539,138.93 L568.87,131 L568.87,193.07 L564.2,189.33 L553,181.87 L539,176.27 L529.67,171.6 L525,168.8 L525,165.53 Z" fill="#fff" stroke="none"/>
<path d="M526.87,153.4C527.36,152.39 528.92,149.15 529.85,147.33C530.79,145.51 531.64,143.63 532.47,142.48C533.29,141.33 533.71,141.02 534.8,140.43C535.89,139.84 535.97,139.8 539,138.93C542.03,138.06 548.02,136.49 553,135.2C557.98,133.91 566.22,131.86 568.87,131.19" fill="none" stroke="#3a3a3a" stroke-width="1.0" />
<path d="M521.27,157.13C521.89,156.67 523.06,154.57 525,154.33C526.94,154.1 531.77,154.57 532.93,155.73C534.1,156.9 532.54,159.54 532,161.33C531.46,163.12 530.83,165.77 529.67,166.47C528.5,167.17 526.37,166.31 525,165.53C523.63,164.76 522.04,162.42 521.45,161.8Z" fill="#fff" stroke="#3a3a3a" stroke-width="1.0" />
<path d="M526.87,153.4C529.67,153.79 539.31,154.72 543.67,155.73C548.02,156.74 549.58,158.22 553,159.47C556.42,160.71 561.56,162.27 564.2,163.2C566.84,164.13 568.09,164.76 568.87,165.07" fill="none" stroke="#3a3a3a" stroke-width="1.0" />
<path d="M540.87,144.53C541.18,145.31 542.11,147.96 542.73,149.2C543.36,150.44 542.89,151.38 544.6,152C546.31,152.62 549.73,152.16 553,152.93C556.27,153.71 561.56,155.73 564.2,156.67C566.84,157.6 568.09,158.22 568.87,158.53" fill="none" stroke="#3a3a3a" stroke-width="1.0" />
<path d="M555.33,145.93L554.87,152" fill="none" stroke="#3a3a3a" stroke-width="1.0" />
<path d="M544.13,152L542.73,155.27" fill="none" stroke="#3a3a3a" stroke-width="1.0" />
<path d="M544.6,161.33L539.93,171.13" fill="none" stroke="#3a3a3a" stroke-width="1.0" />
<path d="M524.07,167.68C525,168.33 527.18,170.17 529.67,171.6C532.16,173.03 535.11,174.56 539,176.27C542.89,177.98 548.8,179.69 553,181.87C557.2,184.04 561.56,187.39 564.2,189.33C566.84,191.28 568.09,192.83 568.87,193.53" fill="none" stroke="#3a3a3a" stroke-width="1.0" />
<path d="M525.03,106.4 Q535.27,98.27 545.52,102.49" fill="none" stroke="#0a0a0a" stroke-width="2.3"/>
<path d="M549.1,103.15 L542.8,105.65 L544.8,98.15 Z" fill="#0a0a0a" stroke="none"/>
<g transform="translate(552,116.5)"><circle cx="0" cy="0" r="8.9" fill="#0a0a0a"/><path d="M1.6,-5.2 L1.6,5 L-0.55,5 L-0.55,-2.85 L-2.35,-1.75 L-2.95,-3.3 L-0.2,-5.2 Z" fill="#fff" stroke="none"/></g>
<g transform="translate(451.7,143)"><circle cx="0" cy="0" r="8.9" fill="#0a0a0a"/><path d="M-2.9,-3.2 C-2.2,-4.35 -1.0,-4.75 0.1,-4.75 C1.4,-4.75 2.15,-3.9 2.15,-2.9 C2.15,-1.5 1.0,-0.2 -0.3,1.3 L-2.35,4.25 L3.35,4.25" fill="none" stroke="#fff" stroke-width="1.85" stroke-linecap="butt" stroke-linejoin="miter"/></g>
<path d="M474.3,143.6 L459.5,155.6" fill="none" stroke="#0a0a0a" stroke-width="2.2"/>
<path d="M456.6,158.2 L459.4,151.6 L463.2,156.4 Z" fill="#0a0a0a"/></g>
</g><rect x="386" y="84" width="179" height="129.2" rx="6.5" fill="none" stroke="#555" stroke-width="1.7"/>
<defs><clipPath id="pc2"><rect x="62.8" y="419.8" width="179" height="129.2" rx="6.5"/></clipPath></defs><g clip-path="url(#pc2)">
<g transform="translate(-216.1,-2.7) scale(1.0)" stroke-linecap="round" stroke-linejoin="round">
<path d="M292.8,453.2C294,452.2 297.47,448.93 300,447.2C302.53,445.47 305.33,444 308,442.8C310.67,441.6 313.47,440.64 316,440C318.53,439.36 322,439.13 323.2,438.96L332.8,442C331.33,442.4 326.8,443.4 324,444.4C321.2,445.4 318.53,446.67 316,448C313.47,449.33 311,450.8 308.8,452.4C306.6,454 303.8,456.73 302.8,457.6Z" fill="#eaeaea" stroke="#3a3a3a" stroke-width="1.0" />
<path d="M292.8,453.2L291.6,460.8L300.8,464.8L302.8,457.6Z" fill="#eaeaea" stroke="#3a3a3a" stroke-width="1.0" />
<path d="M300.8,464.8C301.25,466 302.8,469.47 303.5,472C304.2,474.53 304.47,477.33 305,480C305.53,482.67 305.87,485.17 306.7,488C307.53,490.83 308.62,494.25 310,497C311.38,499.75 313.33,502.62 315,504.5C316.67,506.38 318.05,506.93 320,508.3C321.95,509.67 324.48,511.3 326.7,512.7C328.92,514.1 331.2,515.53 333.3,516.7C335.4,517.87 337.35,518.87 339.3,519.7C341.25,520.53 342.38,520.48 345,521.7C347.62,522.92 352.12,525.42 355,527C357.88,528.58 361.08,530.5 362.3,531.2" fill="none" stroke="#3a3a3a" stroke-width="1.0" />
<path d="M302.8,457.6C303.25,458.17 304.72,459.43 305.5,461C306.28,462.57 306.92,465 307.5,467C308.08,469 308.37,471.08 309,473C309.63,474.92 310.42,476.42 311.3,478.5C312.18,480.58 312.93,483.08 314.3,485.5C315.67,487.92 317.47,490.38 319.5,493C321.53,495.62 324.2,498.95 326.5,501.2C328.8,503.45 331.05,505 333.3,506.5C335.55,508 337.77,509.12 340,510.2C342.23,511.28 344.48,512.12 346.7,513C348.92,513.88 351.08,514.45 353.3,515.5C355.52,516.55 358.22,518.08 360,519.3C361.78,520.52 362.72,521.6 364,522.8C365.28,524 367.08,525.88 367.7,526.5" fill="none" stroke="#3a3a3a" stroke-width="1.0" />
<defs><clipPath id="w2clip"><path d="M353,449.9C351.67,449.9 347.67,449.67 345,449.9C342.33,450.13 339.42,450.53 337,451.3C334.58,452.07 332.42,453.05 330.5,454.5C328.58,455.95 326.7,458.08 325.5,460C324.3,461.92 323.72,464 323.3,466C322.88,468 322.83,470.22 323,472C323.17,473.78 323.47,474.82 324.3,476.7C325.13,478.58 326.5,481.2 328,483.3C329.5,485.4 331.3,487.4 333.3,489.3C335.3,491.2 337.77,493.25 340,494.7C342.23,496.15 344.48,497.12 346.7,498C348.92,498.88 351.08,499.5 353.3,500C355.52,500.5 357.22,500.9 360,501C362.78,501.1 367.5,500.83 370,500.6C372.5,500.37 373.38,500.07 375,499.6C376.62,499.13 378.08,498.73 379.7,497.8C381.32,496.87 383.32,495.52 384.7,494C386.08,492.48 387.32,490.7 388,488.7C388.68,486.7 388.92,484.33 388.8,482C388.68,479.67 388.13,477.03 387.3,474.7C386.47,472.37 385.35,470.23 383.8,468C382.25,465.77 380.13,463.35 378,461.3C375.87,459.25 373.67,457.28 371,455.7C368.33,454.12 365,452.77 362,451.8C359,450.83 354.5,450.22 353,449.9Z" fill="#fff" stroke="none" stroke-width="0" /></clipPath></defs>
<path d="M345,446.3C343.67,446.33 339.5,446.18 337,446.5C334.5,446.82 332.17,447.32 330,448.2C327.83,449.08 325.72,450.33 324,451.8C322.28,453.27 320.77,454.97 319.7,457C318.63,459.03 317.95,461.83 317.6,464C317.25,466.17 317.37,468 317.6,470C317.83,472 318.52,474.25 319,476C319.48,477.75 319.75,478.72 320.5,480.5C321.25,482.28 322.25,484.67 323.5,486.7C324.75,488.73 326.37,490.93 328,492.7C329.63,494.47 331.3,495.87 333.3,497.3C335.3,498.73 337.77,500.23 340,501.3C342.23,502.37 344.48,503.08 346.7,503.7C348.92,504.32 351.08,504.7 353.3,505C355.52,505.3 357.55,505.47 360,505.5C362.45,505.53 365.5,505.43 368,505.2C370.5,504.97 372.5,504.88 375,504.1C377.5,503.32 380.67,502.02 383,500.5C385.33,498.98 387.33,496.92 389,495C390.67,493.08 392.12,491 393,489C393.88,487 394.3,485 394.3,483C394.3,481 393.8,479 393,477C392.2,475 390.92,473 389.5,471C388.08,469 386.42,467 384.5,465C382.58,463 380.42,461 378,459C375.58,457 372.83,454.7 370,453C367.17,451.3 363.83,449.83 361,448.8C358.17,447.77 355.67,447.22 353,446.8C350.33,446.38 346.33,446.38 345,446.3Z" fill="none" stroke="#3a3a3a" stroke-width="1.0" />
<path d="M309.6,470C309.67,469 309.55,466 310,464C310.45,462 311.22,460 312.3,458C313.38,456 314.88,453.67 316.5,452C318.12,450.33 320.08,449.08 322,448C323.92,446.92 325.5,446.13 328,445.5C330.5,444.87 334.17,444.37 337,444.2C339.83,444.03 341.5,443.98 345,444.5C348.5,445.02 354.17,446.27 358,447.3C361.83,448.33 364.33,449 368,450.7C371.67,452.4 376.58,455.12 380,457.5C383.42,459.88 386.08,462.42 388.5,465C390.92,467.58 392.88,470.33 394.5,473C396.12,475.67 397.48,478.33 398.2,481C398.92,483.67 399.08,486.33 398.8,489C398.52,491.67 397.63,494.67 396.5,497C395.37,499.33 393.92,501.08 392,503C390.08,504.92 387.83,506.95 385,508.5C382.17,510.05 377.83,511.55 375,512.3C372.17,513.05 370.5,512.85 368,513C365.5,513.15 362.45,513.25 360,513.2C357.55,513.15 355.52,513.02 353.3,512.7C351.08,512.38 348.92,511.92 346.7,511.3C344.48,510.68 342.23,510 340,509C337.77,508 335.52,506.8 333.3,505.3C331.08,503.8 328.92,501.93 326.7,500C324.48,498.07 321.95,496.12 320,493.7C318.05,491.28 316.42,488.2 315,485.5C313.58,482.8 312.4,480.08 311.5,477.5C310.6,474.92 309.92,471.25 309.6,470Z" fill="none" stroke="#3a3a3a" stroke-width="1.0" />
<path d="M323.2,439C324.8,439.5 329.22,441.1 332.8,442C336.38,442.9 340.5,443.52 344.7,444.4C348.9,445.28 355.78,446.82 358,447.3" fill="none" stroke="#3a3a3a" stroke-width="1.0" />
<path d="M362.3,531.2L367.7,526.5L371.5,536.8L365,537.3Z" fill="#eaeaea" stroke="#3a3a3a" stroke-width="1.0" />
<path d="M367.7,526.5C368.92,526.25 372.12,525.83 375,525C377.88,524.17 381.67,523.17 385,521.5C388.33,519.83 392.33,517.17 395,515C397.67,512.83 399.5,510.33 401,508.5C402.5,506.67 403.5,504.75 404,504C404.3,505.33 405.55,509.5 405.8,512C406.05,514.5 405.8,517.33 405.5,519C405.2,520.67 404.25,521.5 404,522C402.5,523.25 398.5,527.33 395,529.5C391.5,531.67 386.92,533.75 383,535C379.08,536.25 373.42,536.67 371.5,537Z" fill="#eaeaea" stroke="#3a3a3a" stroke-width="1.0" />
<path d="M404,504C403.67,502.92 402.78,499.67 402,497.5C401.22,495.33 399.75,492.08 399.3,491" fill="none" stroke="#3a3a3a" stroke-width="1.0" />
<path d="M353,449.9C351.67,449.9 347.67,449.67 345,449.9C342.33,450.13 339.42,450.53 337,451.3C334.58,452.07 332.42,453.05 330.5,454.5C328.58,455.95 326.7,458.08 325.5,460C324.3,461.92 323.72,464 323.3,466C322.88,468 322.83,470.22 323,472C323.17,473.78 323.47,474.82 324.3,476.7C325.13,478.58 326.5,481.2 328,483.3C329.5,485.4 331.3,487.4 333.3,489.3C335.3,491.2 337.77,493.25 340,494.7C342.23,496.15 344.48,497.12 346.7,498C348.92,498.88 351.08,499.5 353.3,500C355.52,500.5 357.22,500.9 360,501C362.78,501.1 367.5,500.83 370,500.6C372.5,500.37 373.38,500.07 375,499.6C376.62,499.13 378.08,498.73 379.7,497.8C381.32,496.87 383.32,495.52 384.7,494C386.08,492.48 387.32,490.7 388,488.7C388.68,486.7 388.92,484.33 388.8,482C388.68,479.67 388.13,477.03 387.3,474.7C386.47,472.37 385.35,470.23 383.8,468C382.25,465.77 380.13,463.35 378,461.3C375.87,459.25 373.67,457.28 371,455.7C368.33,454.12 365,452.77 362,451.8C359,450.83 354.5,450.22 353,449.9Z" fill="#fff" stroke="none" stroke-width="0" />
<g transform="translate(216.1,2.7)"><path d="M101.5,444.4 L183.57,488.43 L189.9,492.23 L190.79,494.77 L184.2,501.73 L180.4,503 L176.6,501.1 L92.8,456.5 L91,453.5 L92,451.5 Z" fill="#fff" stroke="none"/></g>
<g clip-path="url(#w2clip)"><g transform="translate(-60.3,0) skewX(7.4)"><rect x="332.4" y="430" width="4.8" height="100" fill="#d6eaf2"/><rect x="354.4" y="430" width="70" height="100" fill="#d6eaf2"/></g></g>
<path d="M353,449.9C351.67,449.9 347.67,449.67 345,449.9C342.33,450.13 339.42,450.53 337,451.3C334.58,452.07 332.42,453.05 330.5,454.5C328.58,455.95 326.7,458.08 325.5,460C324.3,461.92 323.72,464 323.3,466C322.88,468 322.83,470.22 323,472C323.17,473.78 323.47,474.82 324.3,476.7C325.13,478.58 326.5,481.2 328,483.3C329.5,485.4 331.3,487.4 333.3,489.3C335.3,491.2 337.77,493.25 340,494.7C342.23,496.15 344.48,497.12 346.7,498C348.92,498.88 351.08,499.5 353.3,500C355.52,500.5 357.22,500.9 360,501C362.78,501.1 367.5,500.83 370,500.6C372.5,500.37 373.38,500.07 375,499.6C376.62,499.13 378.08,498.73 379.7,497.8C381.32,496.87 383.32,495.52 384.7,494C386.08,492.48 387.32,490.7 388,488.7C388.68,486.7 388.92,484.33 388.8,482C388.68,479.67 388.13,477.03 387.3,474.7C386.47,472.37 385.35,470.23 383.8,468C382.25,465.77 380.13,463.35 378,461.3C375.87,459.25 373.67,457.28 371,455.7C368.33,454.12 365,452.77 362,451.8C359,450.83 354.5,450.22 353,449.9Z" fill="none" stroke="#3a3a3a" stroke-width="1.0" />
</g>
<g stroke-linecap="round" stroke-linejoin="round"><path d="M101.5,444.4L183.57,488.43C184.62,489.07 188.7,491.18 189.9,492.23C191.1,493.29 190.64,494.34 190.79,494.77C189.69,495.93 185.93,500.36 184.2,501.73C182.47,503.11 181.03,502.79 180.4,503L176.6,501.1L92.8,456.5" fill="none" stroke="#3a3a3a" stroke-width="1.0" />
<path d="M92.8,456.5C92.55,456.28 91.6,455.7 91.3,455.2C91,454.7 90.88,454.12 91,453.5C91.12,452.88 91.83,451.83 92,451.5L101.5,444.4" fill="none" stroke="#3a3a3a" stroke-width="1.0" />
<path d="M200.73,450.93C200.2,451.82 198.16,454.13 197.53,456.27C196.91,458.4 196.38,461.24 197,463.73C197.62,466.22 199.13,468.71 201.27,471.2C203.4,473.69 206.96,476.36 209.8,478.67C212.64,480.98 215.93,483.47 218.33,485.07C220.73,486.67 223.22,487.73 224.2,488.27" fill="none" stroke="#3a3a3a" stroke-width="1.0" />
<path d="M212.47,461.6C213.44,461.69 216.64,461.87 218.33,462.13C220.02,462.4 221.18,462.4 222.6,463.2C224.02,464 225.62,465.42 226.87,466.93C228.11,468.44 227.58,470.81 230.07,472.27C232.56,473.72 239.84,475.11 241.8,475.68" fill="none" stroke="#3a3a3a" stroke-width="1.0" />
<path d="M222.6,462.67L231.13,454.13" fill="none" stroke="#3a3a3a" stroke-width="1.0" />
<path d="M223.67,476C224.2,475.64 225.8,474.45 226.87,473.87C227.93,473.28 229.53,472.71 230.07,472.48" fill="none" stroke="#3a3a3a" stroke-width="1.0" />
<path d="M194.33,450.4C195.67,450.49 199.22,450.76 202.33,450.93C205.44,451.11 209.8,451.64 213,451.47C216.2,451.29 219.84,450.84 221.53,449.87C223.22,448.89 223.13,446.93 223.13,445.6C223.13,444.27 221.8,442.49 221.53,441.87" fill="none" stroke="#3a3a3a" stroke-width="1.0" />
<path d="M221.53,449.87C223.13,450.4 227.76,451.64 231.13,453.07C234.51,454.49 240.02,457.51 241.8,458.4" fill="none" stroke="#3a3a3a" stroke-width="1.0" />
<path d="M241.83,485.01C239.62,485.58 232.23,487.12 228.53,488.43C224.84,489.74 222.03,491.07 219.67,492.87C217.3,494.66 215.23,496.98 214.35,499.2C213.46,501.42 213.57,504.2 214.35,506.17C215.13,508.13 216.67,510.56 219.03,510.98C221.4,511.4 224.73,509.44 228.53,508.7C232.33,507.96 239.62,506.91 241.83,506.55" fill="none" stroke="#3a3a3a" stroke-width="1.0" />
<path d="M215.23,503C215.76,502.37 216.61,500.09 218.4,499.2C220.19,498.31 223.89,497.85 226,497.68C228.11,497.51 229.91,497.72 231.07,498.19C232.23,498.65 232.44,499.14 232.97,500.47C233.49,501.8 234.02,505.22 234.23,506.17" fill="none" stroke="#3a3a3a" stroke-width="1.0" />
<path d="M138.59,469.37C138.38,469.07 137.39,468.2 137.36,467.53C137.33,466.87 137.36,466.66 138.43,465.39C139.51,464.11 141.37,461.94 143.8,459.87C146.23,457.8 150.19,455.27 153,452.97C155.81,450.67 156.89,448.89 160.67,446.07C164.44,443.24 171.39,438.74 175.67,436C179.94,433.26 182.78,431.38 186.33,429.6C189.89,427.82 193.44,426.31 197,425.33C200.56,424.36 204.11,424.36 207.67,423.73C211.22,423.11 215.31,422.31 218.33,421.6C221.36,420.89 224.56,419.82 225.8,419.47L191.67,444C192.02,444.36 193.36,445.07 193.8,446.13C194.24,447.2 195.04,449.07 194.33,450.4C193.62,451.73 191.76,452.8 189.53,454.13C187.31,455.47 184.2,457.07 181,458.4C177.8,459.73 172.96,460.61 170.33,462.13C167.71,463.66 167.64,465.79 165.27,467.53C162.89,469.28 159.39,471.65 156.07,472.59C152.74,473.54 148.25,473.74 145.33,473.21C142.42,472.67 139.71,470.01 138.59,469.37Z" fill="#fff" stroke="none" stroke-width="0" />
<path d="M138.59,469.37C138.38,469.07 137.39,468.2 137.36,467.53C137.33,466.87 137.36,466.66 138.43,465.39C139.51,464.11 141.37,461.94 143.8,459.87C146.23,457.8 150.19,455.27 153,452.97C155.81,450.67 156.89,448.89 160.67,446.07C164.44,443.24 171.39,438.74 175.67,436C179.94,433.26 182.78,431.38 186.33,429.6C189.89,427.82 193.44,426.31 197,425.33C200.56,424.36 204.11,424.36 207.67,423.73C211.22,423.11 215.31,422.31 218.33,421.6C221.36,420.89 224.56,419.82 225.8,419.47" fill="none" stroke="#3a3a3a" stroke-width="1.0" />
<path d="M191.67,444C192.02,444.36 193.36,445.07 193.8,446.13C194.24,447.2 195.04,449.07 194.33,450.4C193.62,451.73 191.76,452.8 189.53,454.13C187.31,455.47 184.2,457.07 181,458.4C177.8,459.73 172.96,460.61 170.33,462.13C167.71,463.66 167.64,465.79 165.27,467.53C162.89,469.28 159.39,471.65 156.07,472.59C152.74,473.54 148.25,473.74 145.33,473.21C142.42,472.67 139.71,470.01 138.59,469.37" fill="none" stroke="#3a3a3a" stroke-width="1.0" />
<path d="M139.97,464.77C140.86,463.88 143.29,461.09 145.33,459.41C147.38,457.72 150.78,455.09 152.23,454.65C153.69,454.22 154.71,455.55 154.07,456.8C153.43,458.05 150.37,460.63 148.4,462.17C146.43,463.7 143.75,465.16 142.27,466C140.78,466.84 139.97,467.02 139.51,467.23" fill="none" stroke="#3a3a3a" stroke-width="1.0" /></g>
</g><rect x="62.8" y="419.8" width="179" height="129.2" rx="6.5" fill="none" stroke="#555" stroke-width="1.7"/>
<defs><clipPath id="pc3"><rect x="283.2" y="419.6" width="179" height="129.2" rx="6.5"/></clipPath></defs><g clip-path="url(#pc3)">
<g transform="translate(0,0) scale(1.0)" stroke-linecap="round" stroke-linejoin="round">
<path d="M292.8,453.2C294,452.2 297.47,448.93 300,447.2C302.53,445.47 305.33,444 308,442.8C310.67,441.6 313.47,440.64 316,440C318.53,439.36 322,439.13 323.2,438.96L332.8,442C331.33,442.4 326.8,443.4 324,444.4C321.2,445.4 318.53,446.67 316,448C313.47,449.33 311,450.8 308.8,452.4C306.6,454 303.8,456.73 302.8,457.6Z" fill="#eaeaea" stroke="#3a3a3a" stroke-width="1.0" />
<path d="M292.8,453.2L291.6,460.8L300.8,464.8L302.8,457.6Z" fill="#eaeaea" stroke="#3a3a3a" stroke-width="1.0" />
<path d="M300.8,464.8C301.25,466 302.8,469.47 303.5,472C304.2,474.53 304.47,477.33 305,480C305.53,482.67 305.87,485.17 306.7,488C307.53,490.83 308.62,494.25 310,497C311.38,499.75 313.33,502.62 315,504.5C316.67,506.38 318.05,506.93 320,508.3C321.95,509.67 324.48,511.3 326.7,512.7C328.92,514.1 331.2,515.53 333.3,516.7C335.4,517.87 337.35,518.87 339.3,519.7C341.25,520.53 342.38,520.48 345,521.7C347.62,522.92 352.12,525.42 355,527C357.88,528.58 361.08,530.5 362.3,531.2" fill="none" stroke="#3a3a3a" stroke-width="1.0" />
<path d="M302.8,457.6C303.25,458.17 304.72,459.43 305.5,461C306.28,462.57 306.92,465 307.5,467C308.08,469 308.37,471.08 309,473C309.63,474.92 310.42,476.42 311.3,478.5C312.18,480.58 312.93,483.08 314.3,485.5C315.67,487.92 317.47,490.38 319.5,493C321.53,495.62 324.2,498.95 326.5,501.2C328.8,503.45 331.05,505 333.3,506.5C335.55,508 337.77,509.12 340,510.2C342.23,511.28 344.48,512.12 346.7,513C348.92,513.88 351.08,514.45 353.3,515.5C355.52,516.55 358.22,518.08 360,519.3C361.78,520.52 362.72,521.6 364,522.8C365.28,524 367.08,525.88 367.7,526.5" fill="none" stroke="#3a3a3a" stroke-width="1.0" />
<defs><clipPath id="w3clip"><path d="M353,449.9C351.67,449.9 347.67,449.67 345,449.9C342.33,450.13 339.42,450.53 337,451.3C334.58,452.07 332.42,453.05 330.5,454.5C328.58,455.95 326.7,458.08 325.5,460C324.3,461.92 323.72,464 323.3,466C322.88,468 322.83,470.22 323,472C323.17,473.78 323.47,474.82 324.3,476.7C325.13,478.58 326.5,481.2 328,483.3C329.5,485.4 331.3,487.4 333.3,489.3C335.3,491.2 337.77,493.25 340,494.7C342.23,496.15 344.48,497.12 346.7,498C348.92,498.88 351.08,499.5 353.3,500C355.52,500.5 357.22,500.9 360,501C362.78,501.1 367.5,500.83 370,500.6C372.5,500.37 373.38,500.07 375,499.6C376.62,499.13 378.08,498.73 379.7,497.8C381.32,496.87 383.32,495.52 384.7,494C386.08,492.48 387.32,490.7 388,488.7C388.68,486.7 388.92,484.33 388.8,482C388.68,479.67 388.13,477.03 387.3,474.7C386.47,472.37 385.35,470.23 383.8,468C382.25,465.77 380.13,463.35 378,461.3C375.87,459.25 373.67,457.28 371,455.7C368.33,454.12 365,452.77 362,451.8C359,450.83 354.5,450.22 353,449.9Z" fill="#fff" stroke="none" stroke-width="0" /></clipPath></defs>
<path d="M345,446.3C343.67,446.33 339.5,446.18 337,446.5C334.5,446.82 332.17,447.32 330,448.2C327.83,449.08 325.72,450.33 324,451.8C322.28,453.27 320.77,454.97 319.7,457C318.63,459.03 317.95,461.83 317.6,464C317.25,466.17 317.37,468 317.6,470C317.83,472 318.52,474.25 319,476C319.48,477.75 319.75,478.72 320.5,480.5C321.25,482.28 322.25,484.67 323.5,486.7C324.75,488.73 326.37,490.93 328,492.7C329.63,494.47 331.3,495.87 333.3,497.3C335.3,498.73 337.77,500.23 340,501.3C342.23,502.37 344.48,503.08 346.7,503.7C348.92,504.32 351.08,504.7 353.3,505C355.52,505.3 357.55,505.47 360,505.5C362.45,505.53 365.5,505.43 368,505.2C370.5,504.97 372.5,504.88 375,504.1C377.5,503.32 380.67,502.02 383,500.5C385.33,498.98 387.33,496.92 389,495C390.67,493.08 392.12,491 393,489C393.88,487 394.3,485 394.3,483C394.3,481 393.8,479 393,477C392.2,475 390.92,473 389.5,471C388.08,469 386.42,467 384.5,465C382.58,463 380.42,461 378,459C375.58,457 372.83,454.7 370,453C367.17,451.3 363.83,449.83 361,448.8C358.17,447.77 355.67,447.22 353,446.8C350.33,446.38 346.33,446.38 345,446.3Z" fill="none" stroke="#3a3a3a" stroke-width="1.0" />
<path d="M309.6,470C309.67,469 309.55,466 310,464C310.45,462 311.22,460 312.3,458C313.38,456 314.88,453.67 316.5,452C318.12,450.33 320.08,449.08 322,448C323.92,446.92 325.5,446.13 328,445.5C330.5,444.87 334.17,444.37 337,444.2C339.83,444.03 341.5,443.98 345,444.5C348.5,445.02 354.17,446.27 358,447.3C361.83,448.33 364.33,449 368,450.7C371.67,452.4 376.58,455.12 380,457.5C383.42,459.88 386.08,462.42 388.5,465C390.92,467.58 392.88,470.33 394.5,473C396.12,475.67 397.48,478.33 398.2,481C398.92,483.67 399.08,486.33 398.8,489C398.52,491.67 397.63,494.67 396.5,497C395.37,499.33 393.92,501.08 392,503C390.08,504.92 387.83,506.95 385,508.5C382.17,510.05 377.83,511.55 375,512.3C372.17,513.05 370.5,512.85 368,513C365.5,513.15 362.45,513.25 360,513.2C357.55,513.15 355.52,513.02 353.3,512.7C351.08,512.38 348.92,511.92 346.7,511.3C344.48,510.68 342.23,510 340,509C337.77,508 335.52,506.8 333.3,505.3C331.08,503.8 328.92,501.93 326.7,500C324.48,498.07 321.95,496.12 320,493.7C318.05,491.28 316.42,488.2 315,485.5C313.58,482.8 312.4,480.08 311.5,477.5C310.6,474.92 309.92,471.25 309.6,470Z" fill="none" stroke="#3a3a3a" stroke-width="1.0" />
<path d="M323.2,439C324.8,439.5 329.22,441.1 332.8,442C336.38,442.9 340.5,443.52 344.7,444.4C348.9,445.28 355.78,446.82 358,447.3" fill="none" stroke="#3a3a3a" stroke-width="1.0" />
<path d="M362.3,531.2L367.7,526.5L371.5,536.8L365,537.3Z" fill="#eaeaea" stroke="#3a3a3a" stroke-width="1.0" />
<path d="M367.7,526.5C368.92,526.25 372.12,525.83 375,525C377.88,524.17 381.67,523.17 385,521.5C388.33,519.83 392.33,517.17 395,515C397.67,512.83 399.5,510.33 401,508.5C402.5,506.67 403.5,504.75 404,504C404.3,505.33 405.55,509.5 405.8,512C406.05,514.5 405.8,517.33 405.5,519C405.2,520.67 404.25,521.5 404,522C402.5,523.25 398.5,527.33 395,529.5C391.5,531.67 386.92,533.75 383,535C379.08,536.25 373.42,536.67 371.5,537Z" fill="#eaeaea" stroke="#3a3a3a" stroke-width="1.0" />
<path d="M404,504C403.67,502.92 402.78,499.67 402,497.5C401.22,495.33 399.75,492.08 399.3,491" fill="none" stroke="#3a3a3a" stroke-width="1.0" />
<path d="M353,449.9C351.67,449.9 347.67,449.67 345,449.9C342.33,450.13 339.42,450.53 337,451.3C334.58,452.07 332.42,453.05 330.5,454.5C328.58,455.95 326.7,458.08 325.5,460C324.3,461.92 323.72,464 323.3,466C322.88,468 322.83,470.22 323,472C323.17,473.78 323.47,474.82 324.3,476.7C325.13,478.58 326.5,481.2 328,483.3C329.5,485.4 331.3,487.4 333.3,489.3C335.3,491.2 337.77,493.25 340,494.7C342.23,496.15 344.48,497.12 346.7,498C348.92,498.88 351.08,499.5 353.3,500C355.52,500.5 357.22,500.9 360,501C362.78,501.1 367.5,500.83 370,500.6C372.5,500.37 373.38,500.07 375,499.6C376.62,499.13 378.08,498.73 379.7,497.8C381.32,496.87 383.32,495.52 384.7,494C386.08,492.48 387.32,490.7 388,488.7C388.68,486.7 388.92,484.33 388.8,482C388.68,479.67 388.13,477.03 387.3,474.7C386.47,472.37 385.35,470.23 383.8,468C382.25,465.77 380.13,463.35 378,461.3C375.87,459.25 373.67,457.28 371,455.7C368.33,454.12 365,452.77 362,451.8C359,450.83 354.5,450.22 353,449.9Z" fill="#fff" stroke="none" stroke-width="0" />
<g transform="translate(0,0)"><path d="M350.12,478.93 L358.33,464 L361,461.87 L366.33,460.05 L373.8,458.77 L377,468.59 L368.47,470.72 L405.8,494.4 L407.19,496.75 L403.13,502.93 L398.87,506.35 L395.13,505.28 L351.4,481.81 Z" fill="#fff" stroke="none"/></g>
<g clip-path="url(#w3clip)"><g transform=""><rect x="332.4" y="430" width="4.8" height="100" fill="#d6eaf2"/><rect x="354.4" y="430" width="70" height="100" fill="#d6eaf2"/></g></g>
<path d="M353,449.9C351.67,449.9 347.67,449.67 345,449.9C342.33,450.13 339.42,450.53 337,451.3C334.58,452.07 332.42,453.05 330.5,454.5C328.58,455.95 326.7,458.08 325.5,460C324.3,461.92 323.72,464 323.3,466C322.88,468 322.83,470.22 323,472C323.17,473.78 323.47,474.82 324.3,476.7C325.13,478.58 326.5,481.2 328,483.3C329.5,485.4 331.3,487.4 333.3,489.3C335.3,491.2 337.77,493.25 340,494.7C342.23,496.15 344.48,497.12 346.7,498C348.92,498.88 351.08,499.5 353.3,500C355.52,500.5 357.22,500.9 360,501C362.78,501.1 367.5,500.83 370,500.6C372.5,500.37 373.38,500.07 375,499.6C376.62,499.13 378.08,498.73 379.7,497.8C381.32,496.87 383.32,495.52 384.7,494C386.08,492.48 387.32,490.7 388,488.7C388.68,486.7 388.92,484.33 388.8,482C388.68,479.67 388.13,477.03 387.3,474.7C386.47,472.37 385.35,470.23 383.8,468C382.25,465.77 380.13,463.35 378,461.3C375.87,459.25 373.67,457.28 371,455.7C368.33,454.12 365,452.77 362,451.8C359,450.83 354.5,450.22 353,449.9Z" fill="none" stroke="#3a3a3a" stroke-width="1.0" />
</g>
<g stroke-linecap="round" stroke-linejoin="round"><path d="M350.12,478.93L351.4,481.81L395.13,505.28C395.76,505.46 397.53,506.74 398.87,506.35C400.2,505.96 402.42,503.5 403.13,502.93C403.81,501.9 406.74,498.17 407.19,496.75C407.63,495.32 406.03,494.79 405.8,494.4L365.27,472.21C364.29,471.73 360.56,470.65 359.4,469.33C358.24,468.02 358.51,465.16 358.33,464.32" fill="none" stroke="#3a3a3a" stroke-width="1.0" />
<path d="M350.12,478.93L358.33,464" fill="none" stroke="#3a3a3a" stroke-width="1.0" />
<path d="M358.33,464C358.78,463.64 359.67,462.52 361,461.87C362.33,461.21 364.2,460.57 366.33,460.05C368.47,459.54 372.56,458.99 373.8,458.77" fill="none" stroke="#3a3a3a" stroke-width="1.0" />
<path d="M354.6,474.35C356.56,473.81 362.6,472.11 366.33,471.15C370.07,470.19 375.22,469.01 377,468.59" fill="none" stroke="#3a3a3a" stroke-width="1.0" />
<path d="M378.37,453.73C378.44,452.2 378.57,447.34 378.83,444.53C379.08,441.72 378.83,439.17 379.9,436.87C380.97,434.57 382.84,432.78 385.27,430.73C387.69,428.69 391.53,426.59 394.47,424.6C397.41,422.61 401.49,419.74 402.9,418.77" fill="none" stroke="#3a3a3a" stroke-width="1.0" />
<path d="M392.17,436.1C392.81,436.87 394.72,439.42 396,440.7C397.28,441.98 396.26,444.15 399.83,443.77C403.41,443.38 411.46,439.68 417.47,438.4C423.47,437.12 431.83,436.3 435.87,436.1C439.9,435.9 440.57,436.48 441.69,437.17C442.82,437.86 442.77,439.14 442.61,440.24C442.46,441.34 441.44,442.87 440.77,443.77C440.11,444.66 438.98,445.3 438.63,445.61" fill="none" stroke="#3a3a3a" stroke-width="1.0" />
<path d="M413.63,429.97C413.81,430.61 414.32,432.52 414.71,433.8C415.09,435.08 415.73,436.99 415.93,437.63" fill="none" stroke="#3a3a3a" stroke-width="1.0" />
<path d="M399.83,443.77L399.07,449.13" fill="none" stroke="#3a3a3a" stroke-width="1.0" />
<path d="M372.52,461.33C372.7,460.71 372.84,458.76 373.59,457.6C374.33,456.44 373.26,455.68 377,454.4C380.74,453.12 390.28,450.52 396,449.9C401.72,449.28 406.22,450.54 411.33,450.67C416.44,450.79 421.81,451.69 426.67,450.67C431.52,449.64 437.14,445.94 440.47,444.53C443.79,443.13 445.58,442.62 446.6,442.23L468.07,442.23L468.07,486.7C466.79,486.57 464.74,486.44 460.4,485.93C456.06,485.42 447.62,484.91 442,483.63C436.38,482.36 431.78,479.67 426.67,478.27C421.56,476.86 416.44,475.71 411.33,475.2C406.22,474.69 400.12,476.18 396,475.2C391.88,474.22 388.52,470.19 386.6,469.33C384.68,468.48 386.07,470.17 384.47,470.08C382.87,469.99 378.87,469.64 377,468.8C375.13,467.96 374.01,466.31 373.27,465.07C372.52,463.82 372.64,461.96 372.52,461.33Z" fill="#fff" stroke="none" stroke-width="0" />
<path d="M372.52,461.33C372.7,460.71 372.84,458.76 373.59,457.6C374.33,456.44 373.26,455.68 377,454.4C380.74,453.12 390.28,450.52 396,449.9C401.72,449.28 406.22,450.54 411.33,450.67C416.44,450.79 421.81,451.69 426.67,450.67C431.52,449.64 437.14,445.94 440.47,444.53C443.79,443.13 445.58,442.62 446.6,442.23" fill="none" stroke="#3a3a3a" stroke-width="1.0" />
<path d="M468.07,486.7C466.79,486.57 464.74,486.44 460.4,485.93C456.06,485.42 447.62,484.91 442,483.63C436.38,482.36 431.78,479.67 426.67,478.27C421.56,476.86 416.44,475.71 411.33,475.2C406.22,474.69 400.12,476.18 396,475.2C391.88,474.22 388.52,470.19 386.6,469.33C384.68,468.48 386.07,470.17 384.47,470.08C382.87,469.99 378.87,469.64 377,468.8C375.13,467.96 374.01,466.31 373.27,465.07C372.52,463.82 372.64,461.96 372.52,461.33" fill="none" stroke="#3a3a3a" stroke-width="1.0" />
<path d="M377,454.4C378.42,454.31 383.76,453.42 385.53,453.87C387.31,454.31 387.4,455.47 387.67,457.07C387.93,458.67 387.31,461.65 387.13,463.47C386.96,465.28 387.01,466.84 386.6,467.95C386.19,469.05 385,469.72 384.68,470.08" fill="none" stroke="#3a3a3a" stroke-width="1.0" />
<path d="M402.9,456.03L401.37,470.6" fill="none" stroke="#3a3a3a" stroke-width="1.0" /></g>
</g><rect x="283.2" y="419.6" width="179" height="129.2" rx="6.5" fill="none" stroke="#555" stroke-width="1.7"/>
<defs><clipPath id="pc4"><rect x="503.2" y="419.6" width="179" height="129.2" rx="6.5"/></clipPath></defs><g clip-path="url(#pc4)">
<g transform="translate(220,0) scale(1.0)" stroke-linecap="round" stroke-linejoin="round">
<path d="M292.8,453.2C294,452.2 297.47,448.93 300,447.2C302.53,445.47 305.33,444 308,442.8C310.67,441.6 313.47,440.64 316,440C318.53,439.36 322,439.13 323.2,438.96L332.8,442C331.33,442.4 326.8,443.4 324,444.4C321.2,445.4 318.53,446.67 316,448C313.47,449.33 311,450.8 308.8,452.4C306.6,454 303.8,456.73 302.8,457.6Z" fill="#eaeaea" stroke="#3a3a3a" stroke-width="1.0" />
<path d="M292.8,453.2L291.6,460.8L300.8,464.8L302.8,457.6Z" fill="#eaeaea" stroke="#3a3a3a" stroke-width="1.0" />
<path d="M300.8,464.8C301.25,466 302.8,469.47 303.5,472C304.2,474.53 304.47,477.33 305,480C305.53,482.67 305.87,485.17 306.7,488C307.53,490.83 308.62,494.25 310,497C311.38,499.75 313.33,502.62 315,504.5C316.67,506.38 318.05,506.93 320,508.3C321.95,509.67 324.48,511.3 326.7,512.7C328.92,514.1 331.2,515.53 333.3,516.7C335.4,517.87 337.35,518.87 339.3,519.7C341.25,520.53 342.38,520.48 345,521.7C347.62,522.92 352.12,525.42 355,527C357.88,528.58 361.08,530.5 362.3,531.2" fill="none" stroke="#3a3a3a" stroke-width="1.0" />
<path d="M302.8,457.6C303.25,458.17 304.72,459.43 305.5,461C306.28,462.57 306.92,465 307.5,467C308.08,469 308.37,471.08 309,473C309.63,474.92 310.42,476.42 311.3,478.5C312.18,480.58 312.93,483.08 314.3,485.5C315.67,487.92 317.47,490.38 319.5,493C321.53,495.62 324.2,498.95 326.5,501.2C328.8,503.45 331.05,505 333.3,506.5C335.55,508 337.77,509.12 340,510.2C342.23,511.28 344.48,512.12 346.7,513C348.92,513.88 351.08,514.45 353.3,515.5C355.52,516.55 358.22,518.08 360,519.3C361.78,520.52 362.72,521.6 364,522.8C365.28,524 367.08,525.88 367.7,526.5" fill="none" stroke="#3a3a3a" stroke-width="1.0" />
<defs><clipPath id="w4clip"><path d="M353,449.9C351.67,449.9 347.67,449.67 345,449.9C342.33,450.13 339.42,450.53 337,451.3C334.58,452.07 332.42,453.05 330.5,454.5C328.58,455.95 326.7,458.08 325.5,460C324.3,461.92 323.72,464 323.3,466C322.88,468 322.83,470.22 323,472C323.17,473.78 323.47,474.82 324.3,476.7C325.13,478.58 326.5,481.2 328,483.3C329.5,485.4 331.3,487.4 333.3,489.3C335.3,491.2 337.77,493.25 340,494.7C342.23,496.15 344.48,497.12 346.7,498C348.92,498.88 351.08,499.5 353.3,500C355.52,500.5 357.22,500.9 360,501C362.78,501.1 367.5,500.83 370,500.6C372.5,500.37 373.38,500.07 375,499.6C376.62,499.13 378.08,498.73 379.7,497.8C381.32,496.87 383.32,495.52 384.7,494C386.08,492.48 387.32,490.7 388,488.7C388.68,486.7 388.92,484.33 388.8,482C388.68,479.67 388.13,477.03 387.3,474.7C386.47,472.37 385.35,470.23 383.8,468C382.25,465.77 380.13,463.35 378,461.3C375.87,459.25 373.67,457.28 371,455.7C368.33,454.12 365,452.77 362,451.8C359,450.83 354.5,450.22 353,449.9Z" fill="#fff" stroke="none" stroke-width="0" /></clipPath></defs>
<path d="M345,446.3C343.67,446.33 339.5,446.18 337,446.5C334.5,446.82 332.17,447.32 330,448.2C327.83,449.08 325.72,450.33 324,451.8C322.28,453.27 320.77,454.97 319.7,457C318.63,459.03 317.95,461.83 317.6,464C317.25,466.17 317.37,468 317.6,470C317.83,472 318.52,474.25 319,476C319.48,477.75 319.75,478.72 320.5,480.5C321.25,482.28 322.25,484.67 323.5,486.7C324.75,488.73 326.37,490.93 328,492.7C329.63,494.47 331.3,495.87 333.3,497.3C335.3,498.73 337.77,500.23 340,501.3C342.23,502.37 344.48,503.08 346.7,503.7C348.92,504.32 351.08,504.7 353.3,505C355.52,505.3 357.55,505.47 360,505.5C362.45,505.53 365.5,505.43 368,505.2C370.5,504.97 372.5,504.88 375,504.1C377.5,503.32 380.67,502.02 383,500.5C385.33,498.98 387.33,496.92 389,495C390.67,493.08 392.12,491 393,489C393.88,487 394.3,485 394.3,483C394.3,481 393.8,479 393,477C392.2,475 390.92,473 389.5,471C388.08,469 386.42,467 384.5,465C382.58,463 380.42,461 378,459C375.58,457 372.83,454.7 370,453C367.17,451.3 363.83,449.83 361,448.8C358.17,447.77 355.67,447.22 353,446.8C350.33,446.38 346.33,446.38 345,446.3Z" fill="none" stroke="#3a3a3a" stroke-width="1.0" />
<path d="M309.6,470C309.67,469 309.55,466 310,464C310.45,462 311.22,460 312.3,458C313.38,456 314.88,453.67 316.5,452C318.12,450.33 320.08,449.08 322,448C323.92,446.92 325.5,446.13 328,445.5C330.5,444.87 334.17,444.37 337,444.2C339.83,444.03 341.5,443.98 345,444.5C348.5,445.02 354.17,446.27 358,447.3C361.83,448.33 364.33,449 368,450.7C371.67,452.4 376.58,455.12 380,457.5C383.42,459.88 386.08,462.42 388.5,465C390.92,467.58 392.88,470.33 394.5,473C396.12,475.67 397.48,478.33 398.2,481C398.92,483.67 399.08,486.33 398.8,489C398.52,491.67 397.63,494.67 396.5,497C395.37,499.33 393.92,501.08 392,503C390.08,504.92 387.83,506.95 385,508.5C382.17,510.05 377.83,511.55 375,512.3C372.17,513.05 370.5,512.85 368,513C365.5,513.15 362.45,513.25 360,513.2C357.55,513.15 355.52,513.02 353.3,512.7C351.08,512.38 348.92,511.92 346.7,511.3C344.48,510.68 342.23,510 340,509C337.77,508 335.52,506.8 333.3,505.3C331.08,503.8 328.92,501.93 326.7,500C324.48,498.07 321.95,496.12 320,493.7C318.05,491.28 316.42,488.2 315,485.5C313.58,482.8 312.4,480.08 311.5,477.5C310.6,474.92 309.92,471.25 309.6,470Z" fill="none" stroke="#3a3a3a" stroke-width="1.0" />
<path d="M323.2,439C324.8,439.5 329.22,441.1 332.8,442C336.38,442.9 340.5,443.52 344.7,444.4C348.9,445.28 355.78,446.82 358,447.3" fill="none" stroke="#3a3a3a" stroke-width="1.0" />
<path d="M362.3,531.2L367.7,526.5L371.5,536.8L365,537.3Z" fill="#eaeaea" stroke="#3a3a3a" stroke-width="1.0" />
<path d="M367.7,526.5C368.92,526.25 372.12,525.83 375,525C377.88,524.17 381.67,523.17 385,521.5C388.33,519.83 392.33,517.17 395,515C397.67,512.83 399.5,510.33 401,508.5C402.5,506.67 403.5,504.75 404,504C404.3,505.33 405.55,509.5 405.8,512C406.05,514.5 405.8,517.33 405.5,519C405.2,520.67 404.25,521.5 404,522C402.5,523.25 398.5,527.33 395,529.5C391.5,531.67 386.92,533.75 383,535C379.08,536.25 373.42,536.67 371.5,537Z" fill="#eaeaea" stroke="#3a3a3a" stroke-width="1.0" />
<path d="M404,504C403.67,502.92 402.78,499.67 402,497.5C401.22,495.33 399.75,492.08 399.3,491" fill="none" stroke="#3a3a3a" stroke-width="1.0" />
<path d="M353,449.9C351.67,449.9 347.67,449.67 345,449.9C342.33,450.13 339.42,450.53 337,451.3C334.58,452.07 332.42,453.05 330.5,454.5C328.58,455.95 326.7,458.08 325.5,460C324.3,461.92 323.72,464 323.3,466C322.88,468 322.83,470.22 323,472C323.17,473.78 323.47,474.82 324.3,476.7C325.13,478.58 326.5,481.2 328,483.3C329.5,485.4 331.3,487.4 333.3,489.3C335.3,491.2 337.77,493.25 340,494.7C342.23,496.15 344.48,497.12 346.7,498C348.92,498.88 351.08,499.5 353.3,500C355.52,500.5 357.22,500.9 360,501C362.78,501.1 367.5,500.83 370,500.6C372.5,500.37 373.38,500.07 375,499.6C376.62,499.13 378.08,498.73 379.7,497.8C381.32,496.87 383.32,495.52 384.7,494C386.08,492.48 387.32,490.7 388,488.7C388.68,486.7 388.92,484.33 388.8,482C388.68,479.67 388.13,477.03 387.3,474.7C386.47,472.37 385.35,470.23 383.8,468C382.25,465.77 380.13,463.35 378,461.3C375.87,459.25 373.67,457.28 371,455.7C368.33,454.12 365,452.77 362,451.8C359,450.83 354.5,450.22 353,449.9Z" fill="#fff" stroke="none" stroke-width="0" />
<g clip-path="url(#w4clip)"><g transform=""><rect x="332.4" y="430" width="4.8" height="100" fill="#d6eaf2"/><rect x="354.4" y="430" width="70" height="100" fill="#d6eaf2"/></g></g>
<path d="M353,449.9C351.67,449.9 347.67,449.67 345,449.9C342.33,450.13 339.42,450.53 337,451.3C334.58,452.07 332.42,453.05 330.5,454.5C328.58,455.95 326.7,458.08 325.5,460C324.3,461.92 323.72,464 323.3,466C322.88,468 322.83,470.22 323,472C323.17,473.78 323.47,474.82 324.3,476.7C325.13,478.58 326.5,481.2 328,483.3C329.5,485.4 331.3,487.4 333.3,489.3C335.3,491.2 337.77,493.25 340,494.7C342.23,496.15 344.48,497.12 346.7,498C348.92,498.88 351.08,499.5 353.3,500C355.52,500.5 357.22,500.9 360,501C362.78,501.1 367.5,500.83 370,500.6C372.5,500.37 373.38,500.07 375,499.6C376.62,499.13 378.08,498.73 379.7,497.8C381.32,496.87 383.32,495.52 384.7,494C386.08,492.48 387.32,490.7 388,488.7C388.68,486.7 388.92,484.33 388.8,482C388.68,479.67 388.13,477.03 387.3,474.7C386.47,472.37 385.35,470.23 383.8,468C382.25,465.77 380.13,463.35 378,461.3C375.87,459.25 373.67,457.28 371,455.7C368.33,454.12 365,452.77 362,451.8C359,450.83 354.5,450.22 353,449.9Z" fill="none" stroke="#3a3a3a" stroke-width="1.0" />
</g>
<g stroke-linecap="round" stroke-linejoin="round"><path d="M622.47,470.8C622.62,471.34 623.01,472.36 623.4,474.07C623.79,475.78 624.18,479.09 624.8,481.07C625.42,483.04 626.2,484.36 627.13,485.92C628.07,487.48 629.31,489.34 630.4,490.4C631.49,491.46 632.66,492.08 633.67,492.27C634.68,492.45 635.66,492.06 636.47,491.52C637.28,490.98 637.82,490.74 638.52,489C639.22,487.26 640.39,483.79 640.67,481.07C640.95,478.34 640.51,475 640.2,472.67C639.89,470.33 639.11,468.62 638.8,467.07C638.49,465.51 638.41,463.96 638.33,463.33Z" fill="#fff" stroke="#3a3a3a" stroke-width="1.0" />
<path d="M671,468L676.6,480.6L685.93,481.07L685.93,462.4L671,462.21Z" fill="#fff" stroke="none" stroke-width="0" />
<path d="M676.6,480.6L681.45,480.6" fill="none" stroke="#3a3a3a" stroke-width="1.0" />
<path d="M638.8,465.2C638.96,465.67 639.03,466.29 639.73,468C640.43,469.71 641.52,472.98 643,475.47C644.48,477.96 646.58,480.76 648.6,482.93C650.62,485.11 652.18,486.82 655.13,488.53C658.09,490.24 663.53,492.11 666.33,493.2C669.13,494.29 670.46,494.68 671.93,495.07C673.41,495.46 674.19,495.69 675.2,495.53C676.21,495.38 677.27,494.91 678,494.13C678.73,493.36 679.35,492.03 679.59,490.87C679.82,489.7 679.9,488.77 679.4,487.13C678.9,485.5 678,483.17 676.6,481.07C675.2,478.97 673.02,476.71 671,474.53C668.98,472.36 666.41,470.1 664.47,468C662.52,465.9 661.36,463.49 659.33,461.93C657.31,460.38 653.5,459.21 652.33,458.67Z" fill="#fff" stroke="#3a3a3a" stroke-width="1.0" />
<path d="M654.67,476.87L665.87,472.2" fill="none" stroke="#3a3a3a" stroke-width="1.0" />
<path d="M671,468L675.67,464.73" fill="none" stroke="#3a3a3a" stroke-width="1.0" />
<path d="M571.5,463.5L613,440.5C613.47,440.55 615.05,440.13 615.8,440.8C616.55,441.47 617.22,443.88 617.5,444.5L626,461L620,477C618,477.78 611.58,480.37 608,481.7C604.42,483.03 601.67,484.87 598.5,485C595.33,485.13 592.08,484 589,482.5C585.92,481 582.5,478.42 580,476C577.5,473.58 575.42,470.08 574,468C572.58,465.92 571.92,464.25 571.5,463.5Z" fill="#fff" stroke="#3a3a3a" stroke-width="1.0" />
<path d="M626.33,417.8C625.65,419.14 623.45,423.42 622.23,425.87C621,428.31 619.86,429.78 619,432.47C618.14,435.16 617.41,440.41 617.09,442L617.53,446.11L633.67,449.33L651.27,434.67L651.56,417.8Z" fill="#fff" stroke="#3a3a3a" stroke-width="1.0" />
<path d="M651.85,417.8C651.27,419.63 650.39,425.5 648.33,428.8C646.28,432.1 643.2,434.86 639.53,437.6C635.87,440.34 630.73,443.08 626.33,445.23C621.93,447.38 616.68,448.89 613.13,450.51C609.59,452.12 607.14,453.44 605.07,454.91C602.99,456.37 601.64,457.79 600.67,459.31C599.69,460.82 599.27,462.53 599.2,464C599.13,465.47 599.49,466.93 600.23,468.11C600.96,469.28 602.06,470.26 603.6,471.04C605.14,471.82 607.39,472.51 609.47,472.8C611.54,473.09 612.52,473.41 616.07,472.8C619.61,472.19 625.84,470.6 630.73,469.13C635.62,467.67 640.02,465.22 645.4,464C650.78,462.78 657.62,462 663,461.8C668.38,461.6 673.76,462.46 677.67,462.83C681.58,463.19 685,463.8 686.47,464L686.47,417.8Z" fill="#fff" stroke="#3a3a3a" stroke-width="1.0" />
<path d="M606.53,455.49C607.34,455.35 610.13,453.81 611.37,454.61C612.62,455.42 613.35,458.65 614.01,460.33C614.67,462.02 615.43,463.19 615.33,464.73C615.24,466.27 614.58,468.47 613.43,469.57C612.28,470.67 609.27,471.04 608.44,471.33" fill="none" stroke="#3a3a3a" stroke-width="1.0" />
<path d="M625.6,450.07C625.72,451.17 625.6,454.59 626.33,456.67C627.07,458.74 629.39,461.56 630,462.53" fill="none" stroke="#3a3a3a" stroke-width="1.0" />
<path d="M639.53,428.51C639.9,429.17 641.05,431.44 641.73,432.47C642.42,433.49 643.32,434.3 643.64,434.67" fill="none" stroke="#3a3a3a" stroke-width="1.0" /></g>
</g><rect x="503.2" y="419.6" width="179" height="129.2" rx="6.5" fill="none" stroke="#555" stroke-width="1.7"/>
</svg>
<div class="title" id="title" style="left:190.0px;top:20.3px;width:auto;letter-spacing:0.77px;-webkit-text-stroke:1.6px #000">Installation Guide</div>
<div class="num" style="left:165.6px;top:227.25px">01</div>
<div class="bar" style="left:165.9px;top:245.7px"></div>
<div class="ln" style="left:165.6px;top:259.2px;letter-spacing:-0.07px">Clean the screen</div>
<div class="ln" style="left:165.6px;top:279px;letter-spacing:0.41px">with the provided wet wipe</div>
<div class="ln" style="left:165.6px;top:298.8px;letter-spacing:0.16px">and microfiber. Remove</div>
<div class="ln" style="left:165.6px;top:318.3px;letter-spacing:0.33px">any remaining dust with</div>
<div class="ln" style="left:165.6px;top:338px;letter-spacing:0.02px">the Dust Removal Sticker to</div>
<div class="ln" style="left:165.6px;top:358px;letter-spacing:-0.04px">ensure the screen is free of</div>
<div class="ln" style="left:165.6px;top:377.3px;letter-spacing:0.04px">dust, smudges, and debris.</div>
<div class="num" style="left:385.6px;top:227.25px">02</div>
<div class="bar" style="left:385.9px;top:245.7px"></div>
<div class="ln" style="left:385.6px;top:259.2px;letter-spacing:0.24px">Remove the protective film</div>
<div class="ln" style="left:385.6px;top:279px;letter-spacing:0.38px">and utilize the Alignment</div>
<div class="ln" style="left:385.6px;top:298.8px;letter-spacing:-0.04px">Sticker to easily align</div>
<div class="ln" style="left:385.6px;top:318.3px;letter-spacing:0.33px">the protector by using</div>
<div class="ln" style="left:385.6px;top:338px;letter-spacing:0.02px">the cutouts and sides as</div>
<div class="ln" style="left:385.6px;top:358px;letter-spacing:0.2px">a guideline.</div>
<div class="num" style="left:62.6px;top:563.45px">03</div>
<div class="bar" style="left:62.9px;top:581.6px"></div>
<div class="ln" style="left:62.6px;top:594.6px;letter-spacing:0.27px">Lightly tap the center</div>
<div class="ln" style="left:62.6px;top:614.3px;letter-spacing:0.19px">of the screen protector</div>
<div class="ln" style="left:62.6px;top:634.1px;letter-spacing:-0.03px">to begin the self-</div>
<div class="ln" style="left:62.6px;top:653.9px;letter-spacing:0.07px">application process.</div>
<div class="num" style="left:282.6px;top:565.25px">04</div>
<div class="bar" style="left:282.9px;top:583.6px"></div>
<div class="ln" style="left:282.6px;top:597.1px;letter-spacing:0.17px">Once the protector has</div>
<div class="ln" style="left:282.6px;top:616.9px;letter-spacing:0.12px">been installed to one&#8217;s</div>
<div class="ln" style="left:282.6px;top:636.4px;letter-spacing:0.39px">liking, hold down the</div>
<div class="ln" style="left:282.6px;top:656.1px;letter-spacing:0.18px">screen protector and</div>
<div class="ln" style="left:282.6px;top:675.9px;letter-spacing:0.1px">carefully peel away the</div>
<div class="ln" style="left:282.6px;top:695.9px;letter-spacing:0.41px">Alignment Sticker without</div>
<div class="ln" style="left:282.6px;top:715.7px;letter-spacing:0.18px">lifting the glass.</div>
<div class="num" style="left:502.6px;top:565.25px">05</div>
<div class="bar" style="left:502.9px;top:583.6px"></div>
<div class="ln" style="left:502.6px;top:597.1px;letter-spacing:0.07px">Push out any air bubbles</div>
<div class="ln" style="left:502.6px;top:616.9px;letter-spacing:0.49px">with the provided</div>
<div class="ln" style="left:502.6px;top:636.4px;letter-spacing:-0.12px">Squeegee. Clean the screen</div>
<div class="ln" style="left:502.6px;top:656.1px;letter-spacing:0.17px">and allow 24-72</div>
<div class="ln" style="left:502.6px;top:675.9px;letter-spacing:0.02px">hours for all air to disperse</div>
<div class="ln" style="left:502.6px;top:695.9px;letter-spacing:0.33px">naturally.</div>
</body></html>
